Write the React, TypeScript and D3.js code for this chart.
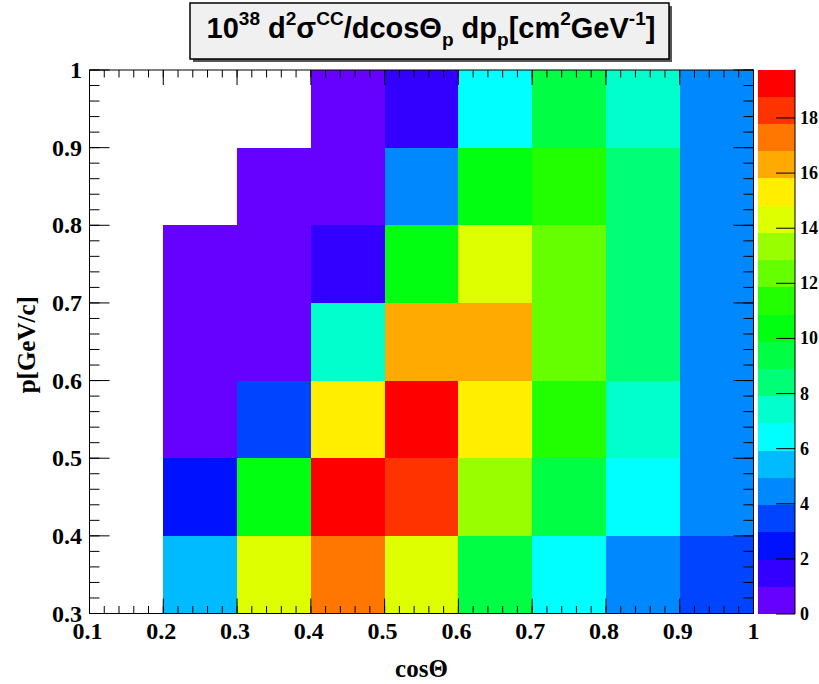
import React from "react";
import * as d3 from "d3";

// cosΘ bin lower edges and p bin lower edges
const cosBins = [0.1, 0.2, 0.3, 0.4, 0.5, 0.6, 0.7, 0.8, 0.9];
const pBins = [0.3, 0.4, 0.5, 0.6, 0.7, 0.8, 0.9];
const binWidth = 0.1;

// cross-section values per p bin (null = empty bin)
const rowP03 = [null, 5.4, 14.3, 17.3, 14.3, 9.4, 6.4, 4.4, 3.5];
const rowP04 = [null, 2.5, 10.4, 19.5, 18.3, 13.3, 9.4, 6.4, 4.4];
const rowP05 = [null, 0.5, 3.5, 15.3, 19.5, 15.3, 11.4, 7.4, 4.4];
const rowP06 = [null, 0.5, 0.5, 7.4, 16.3, 16.3, 12.4, 8.4, 4.4];
const rowP07 = [null, 0.5, 0.5, 1.5, 10.4, 14.3, 12.4, 8.4, 4.4];
const rowP08 = [null, null, 0.5, 0.5, 4.4, 10.4, 11.4, 8.4, 4.4];
const rowP09 = [null, null, null, 0.5, 1.5, 6.4, 9.4, 7.4, 4.4];
const rows = [rowP03, rowP04, rowP05, rowP06, rowP07, rowP08, rowP09];

const zMin = 0;
const zMax = 19.76;

const palette = [
  "#6600ff", "#3300ff", "#0011ff", "#0044ff", "#0088ff",
  "#00bbff", "#00ffff", "#00ffcc", "#00ff77", "#00ff44",
  "#00ff11", "#22ff00", "#66ff00", "#99ff00", "#ddff00",
  "#ffee00", "#ffaa00", "#ff7700", "#ff3300", "#ff0000",
];

const xTickLabels = ["0.1", "0.2", "0.3", "0.4", "0.5", "0.6", "0.7", "0.8", "0.9", "1"];
const yTickLabels = ["0.3", "0.4", "0.5", "0.6", "0.7", "0.8", "0.9", "1"];
const zTickValues = [0, 2, 4, 6, 8, 10, 12, 14, 16, 18];

const W = 819;
const H = 684;
const L = 89.5, R = 753.5, T = 70, B = 613.5;
const CB_L = 758, CB_R = 795, CB_T = 69.5, CB_B = 614;

const serif = "'Liberation Serif', 'Times New Roman', serif";
const sans = "'Liberation Sans', Arial, sans-serif";

export default function App() {
  const x = d3.scaleLinear().domain([0.1, 1]).range([L, R]);
  const y = d3.scaleLinear().domain([0.3, 1]).range([B, T]);
  const color = d3.scaleQuantize<string>().domain([zMin, zMax]).range(palette);
  const z = d3.scaleLinear().domain([zMin, zMax]).range([CB_B, CB_T]);

  const xMajor = x.ticks(9);
  const xMinor = d3.range(0.1, 1.0001, 0.02);
  const yMajor = y.ticks(7);
  const yMinor = d3.range(0.3, 1.0001, 0.02);

  const bandStep = (zMax - zMin) / palette.length;

  return (
    <svg width={W} height={H} style={{ position: "absolute", left: 0, top: 0, background: "#fff" }}>
      <rect x={0} y={0} width={W} height={H} fill="#fff" />
      {/* cells */}
      <g shapeRendering="crispEdges">
        {rows.map((row, ri) =>
          row.map((v, ci) =>
            v == null ? null : (
              <rect
                key={`${ri}-${ci}`}
                x={x(cosBins[ci])}
                y={y(pBins[ri] + binWidth)}
                width={x(cosBins[ci] + binWidth) - x(cosBins[ci])}
                height={y(pBins[ri]) - y(pBins[ri] + binWidth)}
                fill={color(v)}
              />
            )
          )
        )}
      </g>
      {/* frame */}
      <rect x={L} y={T} width={R - L} height={B - T} fill="none" stroke="#000" strokeWidth={1} />
      {/* ticks */}
      <g stroke="#000" strokeWidth={1}>
        {xMinor.map((t, i) => (
          <g key={`xm${i}`}>
            <line x1={x(t)} x2={x(t)} y1={B} y2={B - 7.5} />
            <line x1={x(t)} x2={x(t)} y1={T} y2={T + 7.5} />
          </g>
        ))}
        {xMajor.map((t, i) => (
          <g key={`xM${i}`}>
            <line x1={x(t)} x2={x(t)} y1={B} y2={B - 15} />
            <line x1={x(t)} x2={x(t)} y1={T} y2={T + 15} />
          </g>
        ))}
        {yMinor.map((t, i) => (
          <g key={`ym${i}`}>
            <line x1={L} x2={L + 10} y1={y(t)} y2={y(t)} />
            <line x1={R} x2={R - 10} y1={y(t)} y2={y(t)} />
          </g>
        ))}
        {yMajor.map((t, i) => (
          <g key={`yM${i}`}>
            <line x1={L} x2={L + 20} y1={y(t)} y2={y(t)} />
            <line x1={R} x2={R - 20} y1={y(t)} y2={y(t)} />
          </g>
        ))}
      </g>
      {/* tick labels */}
      <g fontFamily={serif} fontWeight="bold" fontSize={24} textAnchor="middle">
        {xMajor.map((t, i) => (
          <text key={`xl${i}`} x={x(t) - (i === xMajor.length - 1 ? 0 : 2)} y={639}>
            {xTickLabels[i]}
          </text>
        ))}
      </g>
      <g fontFamily={serif} fontWeight="bold" fontSize={24} textAnchor="end">
        {yMajor.map((t, i) => (
          <text key={`yl${i}`} x={82} y={y(t) + 8}>
            {yTickLabels[i]}
          </text>
        ))}
      </g>
      {/* axis titles */}
      <text x={(L + R) / 2} y={677} fontFamily={serif} fontWeight="bold" fontSize={25} textAnchor="middle">
        cosΘ
      </text>
      <text
        transform={`translate(35, ${(T + B) / 2 + 3}) rotate(-90)`}
        fontFamily={serif}
        fontWeight="bold"
        fontSize={25}
        textAnchor="middle"
      >
        p[GeV/c]
      </text>
      {/* color bar */}
      <g shapeRendering="crispEdges">
        {palette.map((c, i) => (
          <rect
            key={`cb${i}`}
            x={CB_L}
            y={z(zMin + (i + 1) * bandStep)}
            width={CB_R - CB_L}
            height={z(zMin + i * bandStep) - z(zMin + (i + 1) * bandStep)}
            fill={c}
          />
        ))}
      </g>
      <line x1={CB_R} x2={CB_R} y1={CB_T} y2={CB_B} stroke="#000" strokeWidth={1} />
      <g stroke="#000" strokeWidth={1}>
        {zTickValues.map((t) => (
          <line key={`zt${t}`} x1={CB_R} x2={CB_R - 19} y1={z(t)} y2={z(t)} />
        ))}
      </g>
      <g fontFamily={serif} fontWeight="bold" fontSize={18}>
        {zTickValues.map((t) => (
          <text key={`zl${t}`} x={800} y={z(t) + 6}>
            {t}
          </text>
        ))}
      </g>
      {/* title box */}
      <rect x={193} y={6} width={479} height={56} fill="#555" />
      <rect x={190} y={3} width={479} height={56} fill="#f0f0f0" stroke="#000" strokeWidth={1.5} />
      <text x={431} y={38} fontFamily={sans} fontWeight="bold" fontSize={29} textAnchor="middle">
        <tspan>10</tspan>
        <tspan dy={-13} fontSize={19}>38</tspan>
        <tspan dy={13}> d</tspan>
        <tspan dy={-13} fontSize={19}>2</tspan>
        <tspan dy={13}>σ</tspan>
        <tspan dy={-13} fontSize={19}>CC</tspan>
        <tspan dy={13}>/dcosΘ</tspan>
        <tspan dy={8} fontSize={19}>p</tspan>
        <tspan dy={-8}> dp</tspan>
        <tspan dy={8} fontSize={19}>p</tspan>
        <tspan dy={-8}>[cm</tspan>
        <tspan dy={-13} fontSize={19}>2</tspan>
        <tspan dy={13}>GeV</tspan>
        <tspan dy={-13} fontSize={19}>-1</tspan>
        <tspan dy={13}>]</tspan>
      </text>
    </svg>
  );
}
